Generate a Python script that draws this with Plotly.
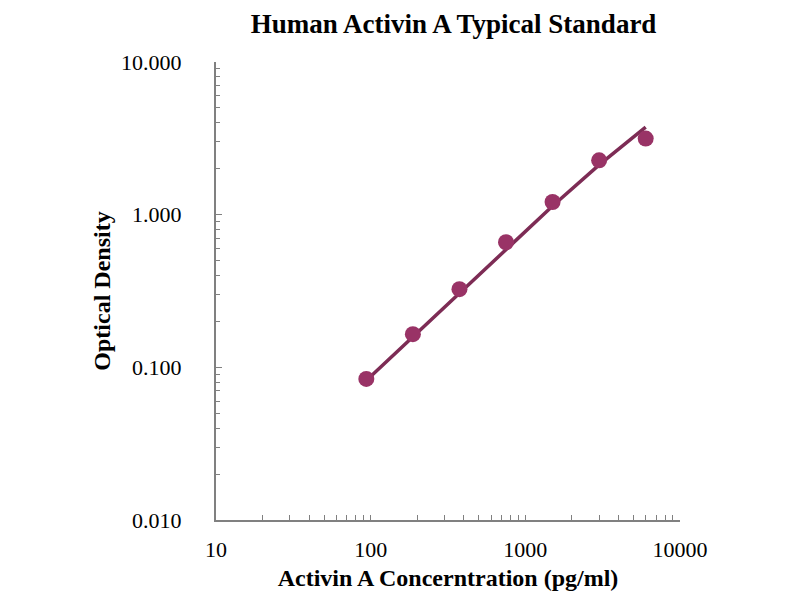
import plotly.graph_objects as go

# standard curve data
conc = [93.75, 187.5, 375, 750, 1500, 3000, 6000]
od = [0.084, 0.165, 0.325, 0.66, 1.21, 2.27, 3.15]
od_fit = [0.082, 0.158, 0.305, 0.59, 1.14, 2.12, 3.75]

x_ticks = [10, 100, 1000, 10000]
y_ticks = [0.01, 0.1, 1, 10]

serif = "Liberation Serif, Times New Roman, serif"

fig = go.Figure()

fig.add_trace(go.Scatter(
    x=conc, y=od_fit, mode="lines",
    line=dict(color="#7d2c55", width=3.5),
    hoverinfo="skip"))

fig.add_trace(go.Scatter(
    x=conc, y=od, mode="markers",
    marker=dict(color="#993366", size=16),
    hoverinfo="skip"))

fig.update_layout(
    width=800, height=600,
    paper_bgcolor="white", plot_bgcolor="white",
    showlegend=False,
    margin=dict(l=208, r=128, t=54, b=88),
    title=dict(text="<b>Human Activin A Typical Standard</b>",
               x=0.557, xanchor="center", y=0.9733, yanchor="middle",
               font=dict(family=serif, size=27, color="black")),
    font=dict(family=serif, size=22, color="black"),
)

fig.update_xaxes(
    type="log", range=[1, 4],
    tickvals=x_ticks, ticktext=[str(v) for v in x_ticks],
    ticks="inside", ticklen=0, tickcolor="#808080",
    showline=True, linecolor="#808080", linewidth=2,
    showgrid=False, zeroline=False,
    ticklabelstandoff=9,
    minor=dict(ticks="inside", ticklen=5, tickcolor="#808080",
               dtick="D1", showgrid=False),
    title=dict(text="<b>Activin A Concerntration (pg/ml)</b>",
               font=dict(family=serif, size=24), standoff=8),
)

fig.update_yaxes(
    type="log", range=[-2, 1],
    tickvals=y_ticks, ticktext=["%.3f" % v for v in y_ticks],
    ticks="inside", ticklen=6, tickcolor="#808080",
    showline=True, linecolor="#808080", linewidth=2,
    showgrid=False, zeroline=False,
    ticklabelstandoff=28,
    minor=dict(ticks="inside", ticklen=4, tickcolor="#808080",
               dtick="D1", showgrid=False),
    title=dict(text="<b>Optical Density</b>",
               font=dict(family=serif, size=24), standoff=4),
)

fig.write_html("out.html")
